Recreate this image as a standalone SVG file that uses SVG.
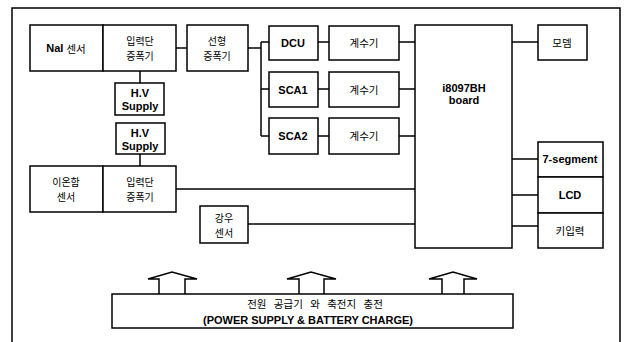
<svg xmlns="http://www.w3.org/2000/svg" width="628" height="342" viewBox="0 0 628 342">
<style>
.b{fill:#fff;stroke:#000;stroke-width:1.5}
.c{fill:none;stroke:#000;stroke-width:1.5}
text{font-family:"Liberation Sans","Noto Sans CJK KR",Arial,sans-serif;fill:#000;text-anchor:middle;dominant-baseline:central}
.l{font-weight:bold;font-size:11px}
.k{font-family:"Noto Sans CJK KR","Liberation Sans",sans-serif;font-size:10.5px}
.k2{font-family:"Noto Sans CJK KR","Liberation Sans",sans-serif;font-size:10px}
</style>
<rect width="628" height="342" fill="#fff"/>
<path class="c" d="M12,342 V8 H620 V342" stroke-width="1"/>
<g id="connectors" class="c">
<path d="M176,48 H187"/>
<path d="M248,48 H261"/>
<path d="M261,42 V136"/>
<path d="M261,42 H269 M261,89 H269 M261,136 H269"/>
<path d="M318,42 H329 M318,89 H329 M318,136 H329"/>
<path d="M399,42 H415 M399,89 H415 M399,136 H415"/>
<path d="M140,71 V83"/>
<path d="M140,154 V166"/>
<path d="M176,189 H415"/>
<path d="M248,224 H415"/>
<path d="M512,42 H538"/>
<path d="M512,159 H538 M512,195 H538 M512,226 H538"/>
<path d="M159,294 V279 H148 L172,272 L197,279 H185 V294"/>
<path d="M299,294 V279 H287 L311,272 L336,279 H324 V294"/>
<path d="M442,294 V279 H429 L453,272 L477,279 H464 V294"/>
</g>
<g id="nai"><rect class="b" x="30" y="25" width="73" height="46"/><text x="66" y="48"><tspan class="l">NaI</tspan><tspan class="k" dx="3">센서</tspan></text></g>
<g id="amp1"><rect class="b" x="103" y="25" width="73" height="46"/><text class="k2" x="140" y="40.5">입력단</text><text class="k2" x="140" y="55.5">증폭기</text></g>
<g id="linamp"><rect class="b" x="187" y="25" width="61" height="46"/><text class="k2" x="217" y="40.5">선형</text><text class="k2" x="217" y="55.5">증폭기</text></g>
<g id="hv1"><rect class="b" x="115" y="83" width="49" height="32"/><text class="l" x="140" y="92.5" font-size="10.5">H.V</text><text class="l" x="140" y="106" font-size="10.5">Supply</text></g>
<g id="hv2"><rect class="b" x="116" y="123" width="49" height="31"/><text class="l" x="140" y="132.5" font-size="10.5">H.V</text><text class="l" x="140" y="146" font-size="10.5">Supply</text></g>
<g id="ion"><rect class="b" x="30" y="166" width="73" height="46"/><text class="k2" x="66" y="181.5">이온함</text><text class="k2" x="66" y="196.5">센서</text></g>
<g id="amp2"><rect class="b" x="103" y="166" width="73" height="46"/><text class="k2" x="140" y="181.5">입력단</text><text class="k2" x="140" y="196.5">증폭기</text></g>
<g id="rain"><rect class="b" x="200" y="206" width="48" height="37"/><text class="k2" x="224" y="217">강우</text><text class="k2" x="224" y="232">센서</text></g>
<g id="dcu"><rect class="b" x="269" y="26" width="49" height="34"/><text class="l" x="293" y="43">DCU</text></g>
<g id="cnt1"><rect class="b" x="329" y="26" width="70" height="34"/><text class="k" x="364" y="42">계수기</text></g>
<g id="sca1"><rect class="b" x="269" y="72" width="49" height="35"/><text class="l" x="293" y="90">SCA1</text></g>
<g id="cnt2"><rect class="b" x="329" y="72" width="70" height="35"/><text class="k" x="364" y="89">계수기</text></g>
<g id="sca2"><rect class="b" x="269" y="118" width="49" height="36"/><text class="l" x="293" y="136">SCA2</text></g>
<g id="cnt3"><rect class="b" x="329" y="118" width="70" height="36"/><text class="k" x="364" y="135">계수기</text></g>
<g id="board"><rect class="b" x="415" y="25" width="97" height="223"/><text class="l" x="464" y="88">i8097BH</text><text class="l" x="464" y="100">board</text></g>
<g id="modem"><rect class="b" x="538" y="25" width="49" height="35"/><text class="k" x="562" y="42">모뎀</text></g>
<g id="seg"><rect class="b" x="538" y="142" width="65" height="35"/><text class="l" x="570" y="159" font-size="10.5">7-segment</text></g>
<g id="lcd"><rect class="b" x="538" y="177" width="65" height="36"/><text class="l" x="570" y="195">LCD</text></g>
<g id="key"><rect class="b" x="538" y="213" width="65" height="35"/><text class="k" x="570" y="230">키입력</text></g>
<g id="power"><rect class="b" x="112" y="294" width="401" height="34"/><text class="k" x="315" y="303" word-spacing="5">전원 공급기 와 축전지 충전</text><text class="l" x="308" y="320">(POWER SUPPLY &amp; BATTERY CHARGE)</text></g>
</svg>
